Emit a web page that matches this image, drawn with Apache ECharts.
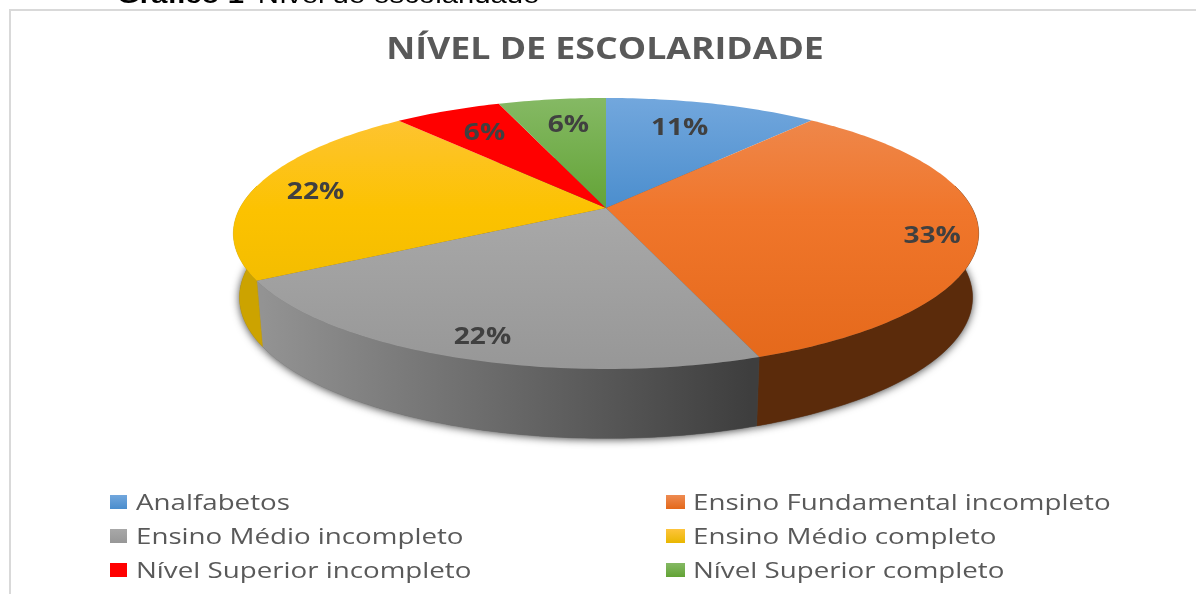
<!DOCTYPE html>
<html><head><meta charset="utf-8">
<style>html,body{margin:0;padding:0;background:#fff}#c{width:1196px;height:594px}</style>
<script src="https://cdn.jsdelivr.net/npm/echarts@6/dist/echarts.min.js"></script>
</head><body><div id="c"></div>
<script>
const categories = ['Analfabetos','Ensino Fundamental incompleto','Ensino Médio incompleto','Ensino Médio completo','Nível Superior incompleto','Nível Superior completo'];
const values = [11.1,33.3,22.2,22.2,5.6,5.6];
const percentLabels = ['11%','33%','22%','22%','6%','6%'];
const titleText = 'NÍVEL DE ESCOLARIDADE';

// styling (separate from data)
const topStops = [
  ['#72a7dd','#4a8dcd','#4a8dcd'],
  ['#ee8b52','#f0762b','#e4681a'],
  ['#a8a8a8','#a8a8a8','#979797'],
  ['#fec43c','#fcc200','#e9b700'],
  ['#ff0000','#ff0000','#ff0000'],
  ['#85b964','#62a335','#62a335']
];
const wallFill = [null,'#5b2b0b',null,'#cca300',null,null];
const labelNudge = [[-14,6],[30,10],[-8,15],[-9,1],[9,5],[7,7]];

const CX=606, A=366, B0=208, PA=91.6, PC=-0.188;
const total = values.reduce((a,b)=>a+b,0);
const starts=[]; { let s=0; for(const v of values){ starts.push(s/total*360); s+=v; } }
const rad=d=>d*Math.PI/180;
function topPt(deg,r){
  const t=rad(deg), v=-Math.cos(t)*r, d=1+PC*v;
  return [CX+A*Math.sin(t)*r/d,(PA*v+B0)/d];
}
function botPt(deg){
  const p=topPt(deg,1);
  return [CX+(p[0]-CX)*360/366, (p[1]-234)*1.04+298];
}
function arc(fn,a,b){
  const out=[], n=Math.max(2,Math.ceil(Math.abs(b-a)));
  for(let i=0;i<=n;i++) out.push(fn(a+(b-a)*i/n));
  return out;
}
const G=echarts.graphic.LinearGradient;
function topGrad(i){
  const s=topStops[i];
  return new G(0,98,0,369,[{offset:0,color:s[0]},{offset:0.42,color:s[1]},{offset:1,color:s[2]}],true);
}
function legendGrad(i){
  const s=topStops[i];
  return new G(0,0,0,1,[{offset:0,color:s[0]},{offset:1,color:s[2]}]);
}
const span=i=>values[i]/total*360;

function renderShadow(p,api){
  const i=p.dataIndex;
  const pts=[[CX,298]].concat(arc(botPt,starts[i],starts[i]+span(i)));
  return {type:'polygon',shape:{points:pts},style:{fill:'#666',shadowBlur:9,shadowColor:'rgba(0,0,0,0.75)',shadowOffsetY:1}};
}
function renderWall(p,api){
  const i=p.dataIndex;
  const a=Math.max(starts[i],80), b=Math.min(starts[i]+span(i),280);
  if(b<=a) return {type:'group',children:[]};
  const pts=arc(d=>topPt(d,1),a,b).concat(arc(botPt,b,a));
  const fill= wallFill[i] || new G(262,0,750,0,[{offset:0,color:'#939393'},{offset:1,color:'#3e3e3e'}],true);
  return {type:'polygon',shape:{points:pts},style:{fill:fill,stroke:fill,lineWidth:0.5}};
}
function renderTop(p,api){
  const i=p.dataIndex;
  const pts=[topPt(0,0)].concat(arc(d=>topPt(d,1),starts[i],starts[i]+span(i)));
  const g=topGrad(i);
  return {type:'polygon',shape:{points:pts},style:{fill:g}};
}
function renderLabel(p,api){
  const i=p.dataIndex;
  const q=topPt(starts[i]+span(i)/2,0.8);
  return {type:'text',x:q[0]+labelNudge[i][0],y:q[1]+labelNudge[i][1],scaleX:1.17,
    style:{text:percentLabels[i],fill:'#404040',font:'bold 24px "Open Sans"',textAlign:'center',textVerticalAlign:'middle'}};
}
function renderLegend(p,api){
  const i=p.dataIndex, col=i%2, row=Math.floor(i/2);
  const sx=col?666:110, tx=col?693:136, cy=502+row*34;
  return {type:'group',children:[
    {type:'rect',shape:{x:sx,y:cy-7,width:col?19:17,height:14},style:{fill:legendGrad(i)}},
    {type:'text',x:tx,y:cy+2,scaleX:1.32,style:{text:categories[i],fill:'#595959',font:'21px "Open Sans"',textVerticalAlign:'middle'}}
  ]};
}
const mk=(name,fn,z)=>({type:'custom',name,coordinateSystem:'none',renderItem:fn,z,silent:true,animation:false,clip:false,
  data:values.map((v,i)=>({name:categories[i],value:v}))});

const chart=echarts.init(document.getElementById('c'),null,{renderer:'canvas'});
chart.setOption({
  animation:false,
  backgroundColor:'#fff',
  graphic:[
    {type:'polyline',shape:{points:[[10,594],[10,10],[1196,10]]},style:{stroke:'#d9d9d9',lineWidth:2,fill:null},z:1},
    {type:'text',x:605,y:50,scaleX:1.19,z:1,style:{text:titleText,textAlign:'center',textVerticalAlign:'middle',
      font:'bold 30px "Open Sans"',fill:'#595959'}},
    {type:'text',x:117,y:8,scaleX:1.22,z:1,style:{
      text:'{b|Gráfico 1-} {r|Nível de escolaridade}',textVerticalAlign:'bottom',
      rich:{b:{fontFamily:'Liberation Sans',fontWeight:'bold',fontSize:24,fill:'#000',color:'#000'},
            r:{fontFamily:'Liberation Sans',fontSize:24,fill:'#000',color:'#000'}}}}
  ],
  series:[mk('shadow',renderShadow,2),mk('wall',renderWall,3),mk('top',renderTop,4),mk('label',renderLabel,5),mk('legend',renderLegend,5)]
});
</script></body></html>
